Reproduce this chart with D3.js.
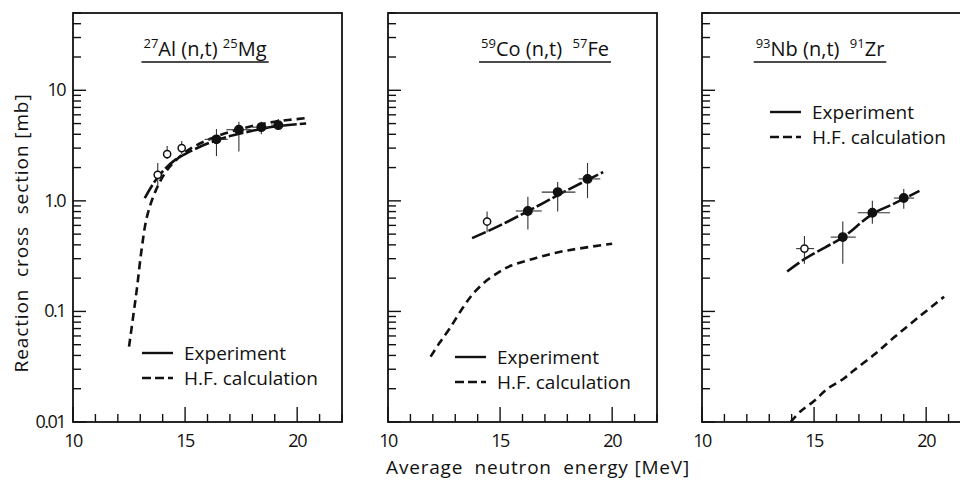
<!DOCTYPE html>
<meta charset="utf-8">
<script src="https://d3js.org/d3.v7.min.js"></script>
<style>
  body { margin: 0; background: #fff; }
  text { font-family: "Open Sans", sans-serif; fill: #111; }
</style>
<div id="my_dataviz"></div>
<script>

// axis labels / ticks
var energyLabels = [10, 15, 20];
var sigmaLabels = ["0.01", "0.1", "1.0", "10"];

// panel titles: [text, superscript?]
var alTitle = [["27", true], ["Al (n,t) ", false], ["25", true], ["Mg", false]];
var coTitle = [["59", true], ["Co (n,t)  ", false], ["57", true], ["Fe", false]];
var nbTitle = [["93", true], ["Nb (n,t)  ", false], ["91", true], ["Zr", false]];

// measured points: energy, sigma, energy low/high, sigma low/high, open marker
var alPoints = [
  {e: 13.78, v: 1.72, e0: 13.78, e1: 13.78, v0: 1.36, v1: 2.2, open: true},
  {e: 14.2, v: 2.65, e0: 14.2, e1: 14.2, v0: 2.39, v1: 3.13, open: true},
  {e: 14.85, v: 3.0, e0: 14.85, e1: 14.85, v0: 2.65, v1: 3.47, open: true},
  {e: 16.4, v: 3.6, e0: 15.87, e1: 16.9, v0: 2.54, v1: 4.46, open: false},
  {e: 17.4, v: 4.4, e0: 16.84, e1: 17.96, v0: 2.8, v1: 5.2, open: false},
  {e: 18.4, v: 4.64, e0: 18.0, e1: 18.75, v0: 4.0, v1: 5.2, open: false},
  {e: 19.16, v: 4.84, e0: 18.84, e1: 19.5, v0: 4.4, v1: 5.5, open: false}
];
var coPoints = [
  {e: 14.42, v: 0.65, e0: 14.42, e1: 14.42, v0: 0.52, v1: 0.8, open: true},
  {e: 16.24, v: 0.81, e0: 15.7, e1: 16.86, v0: 0.55, v1: 1.09, open: false},
  {e: 17.57, v: 1.2, e0: 16.86, e1: 18.36, v0: 0.8, v1: 1.48, open: false},
  {e: 18.9, v: 1.58, e0: 18.5, e1: 19.47, v0: 1.06, v1: 2.2, open: false}
];
var nbPoints = [
  {e: 14.57, v: 0.37, e0: 14.2, e1: 15.0, v0: 0.27, v1: 0.48, open: true},
  {e: 16.28, v: 0.47, e0: 15.74, e1: 16.86, v0: 0.27, v1: 0.65, open: false},
  {e: 17.6, v: 0.78, e0: 16.95, e1: 18.39, v0: 0.62, v1: 1.0, open: false},
  {e: 19.0, v: 1.06, e0: 18.56, e1: 19.46, v0: 0.85, v1: 1.28, open: false}
];

// curves [energy, sigma]
var alExperiment = [[13.2, 1.06], [13.6, 1.45], [14.0, 1.85], [14.5, 2.3], [15, 2.65], [16, 3.3], [17, 3.85], [18, 4.3], [19, 4.7], [20.4, 5.0]];
var alCalc = [[12.5, 0.048], [12.7, 0.095], [12.85, 0.16], [13.05, 0.35], [13.3, 0.72], [13.7, 1.25], [14.2, 1.9], [15, 2.75], [16, 3.55], [17, 4.2], [18, 4.75], [19, 5.2], [20.4, 5.6]];
var coExperiment = [[13.75, 0.46], [15, 0.6], [16.5, 0.86], [18, 1.25], [19.6, 1.82]];
var coCalc = [[11.9, 0.039], [12.3, 0.052], [12.75, 0.07], [13.3, 0.105], [13.8, 0.145], [14.4, 0.19], [15, 0.23], [15.5, 0.26], [16.5, 0.3], [17.5, 0.34], [18.5, 0.37], [20, 0.41]];
var nbExperiment = [[13.8, 0.23], [14.6, 0.3], [15.5, 0.38], [16.3, 0.47], [17.6, 0.76], [18.5, 0.93], [19.7, 1.23]];
var nbCalc = [[13.95, 0.01], [14.4, 0.0125], [15, 0.0155], [15.6, 0.02], [16.3, 0.0245], [16.8, 0.0295], [17.7, 0.041], [18.6, 0.059], [19.7, 0.09], [20.8, 0.136]];

var panels = [
  {left: 73, title: alTitle, titleX: 132, points: alPoints, exp: alExperiment, hf: alCalc, legX: 69, legY: 353},
  {left: 388, title: coTitle, titleX: 157, points: coPoints, exp: coExperiment, hf: coCalc, legX: 67, legY: 357},
  {left: 702, title: nbTitle, titleX: 118, points: nbPoints, exp: nbExperiment, hf: nbCalc, legX: 68, legY: 112}
];

var plotTop = 13, plotBottom = 422, pw = 269;
var ph = plotBottom - plotTop;

var svg = d3.select("#my_dataviz")
  .append("svg")
    .attr("width", 960)
    .attr("height", 485);

var x = d3.scaleLinear().domain([10, 22]).range([0, pw]);
var y = d3.scaleLog().domain([0.01, 50]).range([ph, 0]);

var line = d3.line()
  .x(function(d) { return x(d[0]); })
  .y(function(d) { return y(d[1]); })
  .curve(d3.curveCatmullRom.alpha(0.5));

// y ticks 1..9 per decade
var yTicks = [];
[0.01, 0.1, 1, 10].forEach(function(d) {
  for (var m = 1; m <= 9; m++) if (d * m <= 50) yTicks.push({v: d * m, major: m == 1});
});
var xTicks = d3.range(10, 23).map(function(e) { return {e: e, major: e % 5 == 0}; });

panels.forEach(function(p, i) {
  var g = svg.append("g").attr("transform", "translate(" + p.left + "," + plotTop + ")");

  g.append("rect")
    .attr("width", pw).attr("height", ph)
    .attr("fill", "none").attr("stroke", "#111").attr("stroke-width", 1.8);

  g.selectAll(".yt").data(yTicks).enter().append("line")
    .attr("x1", 0).attr("x2", function(d) { return d.major ? 13 : 8; })
    .attr("y1", function(d) { return y(d.v); }).attr("y2", function(d) { return y(d.v); })
    .attr("stroke", "#111").attr("stroke-width", 1.4);

  g.selectAll(".xt").data(xTicks).enter().append("line")
    .attr("x1", function(d) { return x(d.e); }).attr("x2", function(d) { return x(d.e); })
    .attr("y1", ph).attr("y2", function(d) { return ph - (d.major ? 15 : 8); })
    .attr("stroke", "#111").attr("stroke-width", 1.4);

  g.selectAll(".xl").data(energyLabels).enter().append("text")
    .attr("x", function(d) { return x(d); }).attr("y", ph + 25)
    .attr("text-anchor", "middle").attr("font-size", 18).attr("letter-spacing", -1.5)
    .text(function(d) { return d; });

  if (i == 0) {
    g.selectAll(".yl").data(sigmaLabels).enter().append("text")
      .attr("x", -8).attr("y", function(d) { return y(+d) + 6; })
      .attr("text-anchor", "end").attr("font-size", 18).attr("letter-spacing", -1.5)
      .text(function(d) { return d; });
  }

  // title
  var t = g.append("text")
    .attr("x", p.titleX).attr("y", 43)
    .attr("text-anchor", "middle").attr("font-size", 20)
    .style("white-space", "pre");
  p.title.forEach(function(s, k) {
    t.append("tspan")
      .attr("font-size", s[1] ? 13 : 20)
      .attr("dy", k == 0 ? -8 : (s[1] ? -8 : 8))
      .text(s[0]);
  });
  var bb = t.node().getBBox();
  g.append("line")
    .attr("x1", bb.x - 2).attr("x2", bb.x + bb.width + 2)
    .attr("y1", 49).attr("y2", 49)
    .attr("stroke", "#111").attr("stroke-width", 1.6);

  // curves
  g.append("path").datum(p.hf)
    .attr("d", line).attr("fill", "none")
    .attr("stroke", "#111").attr("stroke-width", 2.6).attr("stroke-dasharray", "8,5");
  g.append("path").datum(p.exp)
    .attr("d", line).attr("fill", "none")
    .attr("stroke", "#111").attr("stroke-width", 2.6).attr("stroke-dasharray", "15,3");

  // error bars
  g.selectAll(".ev").data(p.points).enter().append("line")
    .attr("x1", function(d) { return x(d.e); }).attr("x2", function(d) { return x(d.e); })
    .attr("y1", function(d) { return y(d.v0); }).attr("y2", function(d) { return y(d.v1); })
    .attr("stroke", "#333").attr("stroke-width", 1.1);
  g.selectAll(".eh").data(p.points).enter().append("line")
    .attr("x1", function(d) { return x(d.e0); }).attr("x2", function(d) { return x(d.e1); })
    .attr("y1", function(d) { return y(d.v); }).attr("y2", function(d) { return y(d.v); })
    .attr("stroke", "#333").attr("stroke-width", 1.1);
  g.selectAll(".pt").data(p.points).enter().append("circle")
    .attr("cx", function(d) { return x(d.e); }).attr("cy", function(d) { return y(d.v); })
    .attr("r", function(d) { return d.open ? 3.6 : 4.2; })
    .attr("fill", function(d) { return d.open ? "#fff" : "#111"; })
    .attr("stroke", "#111").attr("stroke-width", 1.5);

  // legend
  var lg = g.append("g").attr("transform", "translate(" + p.legX + "," + (p.legY - plotTop) + ")");
  lg.append("line").attr("x1", 0).attr("x2", 31).attr("y1", 0).attr("y2", 0)
    .attr("stroke", "#111").attr("stroke-width", 2.4);
  lg.append("line").attr("x1", 0).attr("x2", 31).attr("y1", 25).attr("y2", 25)
    .attr("stroke", "#111").attr("stroke-width", 2.4).attr("stroke-dasharray", "9,4");
  lg.append("text").attr("x", 42).attr("y", 7).attr("font-size", 19).text("Experiment");
  lg.append("text").attr("x", 42).attr("y", 32).attr("font-size", 19).text("H.F. calculation");
});

// axis titles
svg.append("text")
  .attr("transform", "translate(28,233) rotate(-90)")
  .attr("text-anchor", "middle").attr("font-size", 19).attr("letter-spacing", 0.9)
  .style("white-space", "pre")
  .text("Reaction  cross  section [mb]");
svg.append("text")
  .attr("x", 538).attr("y", 474)
  .attr("text-anchor", "middle").attr("font-size", 19).attr("letter-spacing", 0.8)
  .style("white-space", "pre")
  .text("Average  neutron  energy [MeV]");

</script>
